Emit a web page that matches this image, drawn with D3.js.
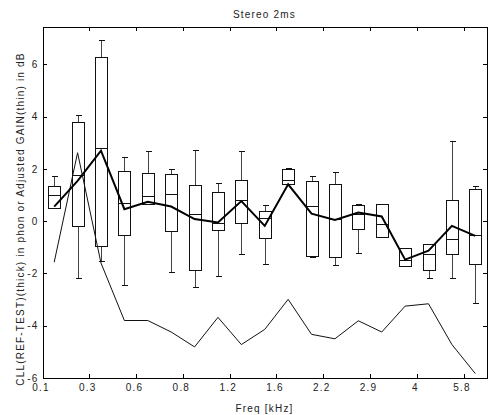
<!DOCTYPE html>
<html>
<head>
<meta charset="utf-8">
<script src="https://cdn.jsdelivr.net/npm/d3@7"></script>
<style>
    body { margin: 0; background: #fff; }
    text { font-family: "Liberation Sans", Arial, sans-serif; font-size: 10px; fill: #222; letter-spacing: 1.2px; }
</style>
</head>
<body>
<script>

// one box per band, bands at 0.5, 1.5 ... 18.5 on the x axis
const xTickLabels = ["0.1", "0.3", "0.6", "0.8", "1.2", "1.6", "2.2", "2.9", "4", "5.8"]
const yTicks      = [-6, -4, -2, 0, 2, 4, 6]

const whiskHi = [1.70, 4.05, 6.93, 2.42, 2.68, 1.98, 2.72, 1.45, 2.68, 0.61, 2.00, 1.70, 1.88, 0.63, 0.64, -1.04, -0.89, 3.04, 1.32]
const q3      = [1.32, 3.78, 6.27, 1.90, 1.82, 1.78, 1.38, 1.09, 1.57, 0.39, 1.96, 1.51, 1.41, 0.61, 0.63, -1.04, -0.89, 0.80, 1.21]
const median  = [1.00, 1.76, 2.79, 0.67, 0.94, 1.03, 0.27, -0.09, 0.80, 0.10, 1.54, 0.58, 0.05, 0.27, -0.11, -1.49, -1.27, -0.70, -0.56]
const q1      = [0.48, -0.22, -0.98, -0.56, 0.65, -0.41, -1.89, -0.37, -0.08, -0.66, 1.41, -1.35, -1.38, -0.30, -0.63, -1.73, -1.89, -1.28, -1.64]
const whiskLo = [0.48, -2.18, -1.54, -2.46, 0.65, -1.98, -2.55, -2.13, -1.27, -1.66, 1.40, -1.38, -1.70, -1.22, -0.64, -1.73, -2.21, -2.21, -3.15]

// thick line: CLL difference, thin line: adjusted gain
const cllDiff  = [0.56, 1.54, 2.70, 0.46, 0.74, 0.56, 0.08, -0.05, 0.77, -0.18, 1.41, 0.29, 0.05, 0.33, 0.18, -1.47, -1.13, -0.18, -0.56]
const adjGain  = [-1.57, 2.62, -1.60, -3.80, -3.80, -4.24, -4.81, -3.68, -4.72, -4.14, -2.99, -4.33, -4.50, -3.81, -4.24, -3.25, -3.16, -4.72, -5.83]

const width  = 488
const height = 415

const svg = d3.select("body")
    .append("svg")
    .attr("width", width)
    .attr("height", height)

const x = d3.scaleLinear()
    .domain([0, 19])
    .range([42.5, 487])
const y = d3.scaleLinear()
    .domain([-6, 7.45])
    .range([378, 26.5])

const boxW = 12
const capW = 6

// boxes
const boxes = svg.append("g")
    .attr("stroke", "#111")
    .attr("fill", "none")
    .attr("shape-rendering", "crispEdges")

median.forEach((m, i) => {
    let cx = Math.round(x(i + 0.5)) + 0.5
    let g = boxes.append("g")

    g.append("line")
        .attr("x1", cx).attr("x2", cx)
        .attr("y1", y(whiskHi[i])).attr("y2", y(q3[i]))
        .attr("stroke", "#444")
    g.append("line")
        .attr("x1", cx).attr("x2", cx)
        .attr("y1", y(q1[i])).attr("y2", y(whiskLo[i]))
        .attr("stroke", "#444")
    g.append("line")
        .attr("x1", cx - capW / 2).attr("x2", cx + capW / 2)
        .attr("y1", y(whiskHi[i])).attr("y2", y(whiskHi[i]))
    g.append("line")
        .attr("x1", cx - capW / 2).attr("x2", cx + capW / 2)
        .attr("y1", y(whiskLo[i])).attr("y2", y(whiskLo[i]))
    g.append("rect")
        .attr("x", cx - boxW / 2)
        .attr("y", y(q3[i]))
        .attr("width", boxW)
        .attr("height", y(q1[i]) - y(q3[i]))
    g.append("line")
        .attr("x1", cx - boxW / 2).attr("x2", cx + boxW / 2)
        .attr("y1", y(m)).attr("y2", y(m))
})

// lines
const line = d3.line()
    .x((d, i) => x(i + 0.5))
    .y(d => y(d))

svg.append("path")
    .datum(adjGain)
    .attr("d", line)
    .attr("fill", "none")
    .attr("stroke", "#111")
    .attr("stroke-width", 1)

svg.append("path")
    .datum(cllDiff)
    .attr("d", line)
    .attr("fill", "none")
    .attr("stroke", "#000")
    .attr("stroke-width", 2)

// axes, ticks point inward on all four sides
const xTickVals = xTickLabels.map((d, i) => i * 2)

const axes = [
    [d3.axisBottom(x).tickValues(xTickVals).tickFormat((d, i) => xTickLabels[i]).tickPadding(6), [0, y(-6)], "x"],
    [d3.axisTop(x).tickValues(xTickVals).tickFormat(""), [0, y(7.45)], ""],
    [d3.axisLeft(y).tickValues(yTicks).tickFormat(d => d).tickPadding(4), [x(0), 0], "y"],
    [d3.axisRight(y).tickValues(yTicks).tickFormat(""), [x(19), 0], ""]
]

axes.forEach(([ax, pos, kind]) => {
    let g = svg.append("g")
        .attr("transform", `translate(${pos[0]},${pos[1]})`)
        .call(ax.tickSize(-4).tickSizeOuter(0))
    g.select(".domain").attr("stroke", "#000").attr("shape-rendering", "crispEdges")
    g.selectAll(".tick line").attr("stroke", "#000").attr("shape-rendering", "crispEdges")
    g.selectAll("text").attr("font-family", null).attr("font-size", null).attr("fill", null)
    if (kind == "x") g.selectAll(".tick text").attr("dx", -2)
})

// titles
svg.append("text")
    .attr("x", 264.5)
    .attr("y", 18)
    .attr("text-anchor", "middle")
    .text("Stereo 2ms")

svg.append("text")
    .attr("x", 264.5)
    .attr("y", 412)
    .attr("text-anchor", "middle")
    .text("Freq [kHz]")

svg.append("text")
    .attr("transform", "translate(24,219) rotate(-90)")
    .attr("text-anchor", "middle")
    .text("CLL(REF-TEST)(thick) in phon or Adjusted GAIN(thin) in dB")

</script>
</body>
</html>
